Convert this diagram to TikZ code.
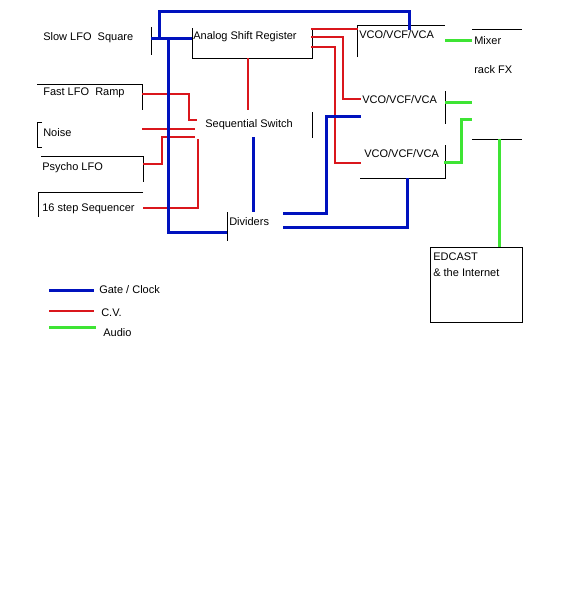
\documentclass[tikz,border=0pt]{standalone}
\usepackage{fontspec}
\setmainfont{Liberation Sans}
\usetikzlibrary{positioning}
\definecolor{gateblue}{RGB}{0,18,190}
\definecolor{cvred}{RGB}{218,22,28}
\definecolor{audiogreen}{RGB}{62,228,52}

\begin{document}
\begin{tikzpicture}[x=1pt,y=-1pt,semithick,
                    every node/.style={font=\fontsize{11}{16}\selectfont,inner sep=0pt}]
  \tikzstyle{gate}=[draw=gateblue,line width=3pt]
  \tikzstyle{cv}=[draw=cvred,line width=2.6pt]
  \tikzstyle{audio}=[draw=audiogreen,line width=3pt]
  \tikzstyle{rim}=[draw=black,line width=1pt]
  \tikzstyle{lbl}=[anchor=west]

  \useasboundingbox (0,0) rectangle (564,600);

  % module texts
  \node[lbl] (slow)   at (43,38)   {Slow LFO~ Square};
  \node[lbl] (asr)    at (193,37)  {Analog Shift Register};
  \node[lbl] (fast)   at (43,93)   {Fast LFO~ Ramp};
  \node[lbl] (noise)  at (43,133)  {Noise};
  \node[lbl] (psycho) at (42,168)  {Psycho LFO};
  \node[lbl] (seq)    at (42,209)  {16 step Sequencer};
  \node[lbl] (sw)     at (205,125) {Sequential Switch};
  \node[lbl] (div)    at (229,222) {Dividers};
  \node[lbl] (vcoA)   at (359,35)  {VCO/VCF/VCA};
  \node[lbl] (vcoB)   at (362,100) {VCO/VCF/VCA};
  \node[lbl] (vcoC)   at (364,154) {VCO/VCF/VCA};
  \node[lbl] (mixer)  at (474,41)  {Mixer};
  \node[lbl] (rack)   at (474,70)  {rack FX};
  \node[anchor=north west,align=left] (edcast) at (433,253) {EDCAST\\\& the Internet};

  % box edges
  \draw[rim] (151,27) -- (151,55);
  \draw[rim] (192,28) -- (192,58) -- (312,58) -- (312,28);
  \draw[rim] (37,84) -- (142,84) -- (142,110);
  \draw[rim] (42,122) -- (37,122) -- (37,147) -- (42,147);
  \draw[rim] (41,156) -- (143,156) -- (143,182);
  \draw[rim] (143,192) -- (38,192) -- (38,217);
  \draw[rim] (312,112) -- (312,138);
  \draw[rim] (227,212) -- (227,241);
  \draw[rim] (357,57) -- (357,25) -- (445,25);
  \draw[rim] (445,91) -- (445,124);
  \draw[rim] (445,145) -- (445,178) -- (360,178);
  \draw[rim] (472,29) -- (522,29);
  \draw[rim] (472,139) -- (522,139);
  \draw[rim] (430,247) rectangle (522,322);

  % connector ends
  \coordinate (slowR)  at (151,38);
  \coordinate (asrL)   at (192,38);
  \coordinate (tapA)   at (159,38);
  \coordinate (tapB)   at (168,38);
  \coordinate (vcoAT)  at (409,30);
  \coordinate (divL)   at (227,232);
  \coordinate (swB)    at (253,137);
  \coordinate (divT)   at (253,212);
  \coordinate (divR1)  at (283,213);
  \coordinate (divR2)  at (283,227);
  \coordinate (vcoBG)  at (361,116);
  \coordinate (vcoCB)  at (407,178);
  \coordinate (asrB)   at (248,58);
  \coordinate (swT)    at (248,110);
  \coordinate (fastR)  at (142,94);
  \coordinate (swIn1)  at (197,120);
  \coordinate (noiseR) at (142,129);
  \coordinate (swIn2)  at (195,129);
  \coordinate (psyR)   at (143,164);
  \coordinate (swIn3)  at (195,137);
  \coordinate (seqR)   at (143,208);
  \coordinate (swIn4)  at (198,139);
  \coordinate (asrR1)  at (311,29);
  \coordinate (vcoAL)  at (358,29);
  \coordinate (asrR2)  at (311,37);
  \coordinate (vcoBL)  at (361,99);
  \coordinate (asrR3)  at (311,47);
  \coordinate (vcoCL)  at (361,163);
  \coordinate (vcoAR)  at (445,40);
  \coordinate (mixIn1) at (472,40);
  \coordinate (vcoBR)  at (445,102);
  \coordinate (mixIn2) at (472,102);
  \coordinate (vcoCR)  at (444,162);
  \coordinate (mixIn3) at (472,119);
  \coordinate (mixB)   at (499,139);
  \coordinate (edT)    at (499,247);

  % C.V.
  \draw[cv] (asrB) -- (swT);
  \draw[cv] (fastR) -| ++(47,26) -- (swIn1);
  \draw[cv] (noiseR) -- (swIn2);
  \draw[cv] (psyR) -| ++(19,-27) -- (swIn3);
  \draw[cv] (seqR) -| (swIn4);
  \draw[cv] (asrR1) -- (vcoAL);
  \draw[cv] (asrR2) -| ++(32,62) -- (vcoBL);
  \draw[cv] (asrR3) -| ++(24,116) -- (vcoCL);

  % gate / clock
  \draw[gate] (slowR) -- (asrL);
  \draw[gate] (tapA) -- ++(0,-27) -| (vcoAT);
  \draw[gate] (tapB) |- (divL);
  \draw[gate] (swB) -- (divT);
  \draw[gate] (divR1) -| ++(43,-97) -- (vcoBG);
  \draw[gate] (divR2) -| (vcoCB);

  % audio
  \draw[audio] (vcoAR) -- (mixIn1);
  \draw[audio] (vcoBR) -- (mixIn2);
  \draw[audio] (vcoCR) -| ++(17,-43) -- (mixIn3);
  \draw[audio] (mixB) -- (edT);

  % legend
  \coordinate (keyG) at (49,290);
  \coordinate (keyC) at (49,311);
  \coordinate (keyA) at (49,327);
  \draw[gate]  (keyG) -- ++(45,0) coordinate (keyGR);
  \draw[cv]    (keyC) -- ++(45,0) coordinate (keyCR);
  \draw[audio] (keyA) -- ++(47,0) coordinate (keyAR);
  \node[lbl] (gatetxt)  [right=5pt of keyGR] {Gate / Clock};
  \node[lbl] (cvtxt)    at (101,313) {C.V.};
  \node[lbl] (audiotxt) at (103,333) {Audio};

\end{tikzpicture}
\end{document}
